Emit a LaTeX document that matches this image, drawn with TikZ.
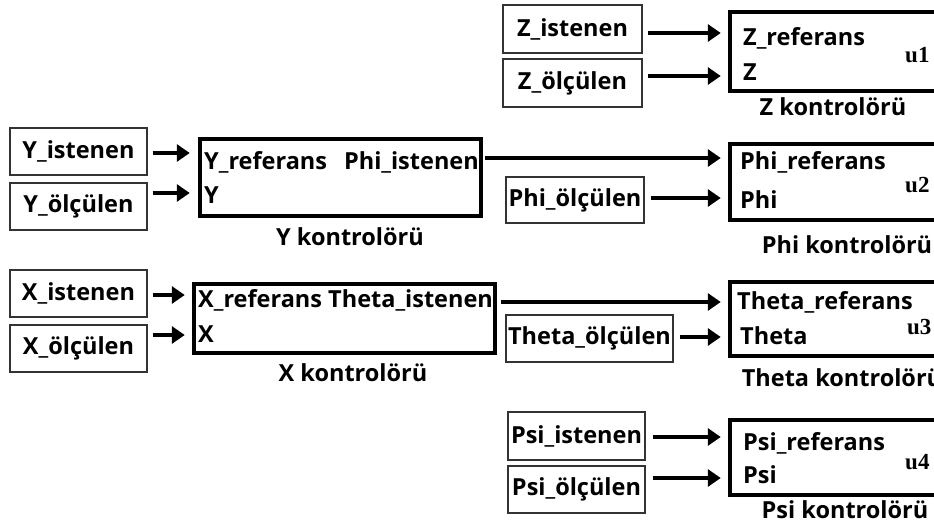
\documentclass[tikz,border=0pt]{standalone}
\usepackage{fontspec}
\setmainfont{Open Sans}
\newfontfamily\ufont{Liberation Serif}
\usetikzlibrary{arrows.meta}
\begin{document}
\begin{tikzpicture}[x=1pt,y=-1pt,
 lbl/.style={font=\fontsize{23.5}{27}\selectfont\bfseries, inner sep=0pt},
 inbox/.style={draw=black!80, line width=1.4pt, inner sep=0pt, minimum width=137pt, minimum height=47pt, lbl},
 ctrl/.style={draw, line width=4.5pt, inner sep=0pt, minimum width=230pt},
 ulbl/.style={font=\ufont\fontsize{23}{26}\selectfont\bfseries, inner sep=0pt},
 arr/.style={line width=3.5pt, -{Triangle[length=13pt,width=17pt]}},
]
\useasboundingbox (0,0) rectangle (934,530);
\clip (0,0) rectangle (934,530);
\fill[white] (0,0) rectangle (934,530);

% Z
\node[inbox, minimum width=139pt, minimum height=48pt] (zi) at (572.5,29) {Z\_istenen};
\node[inbox, minimum width=139pt, minimum height=48pt] (zo) at (572.5,83) {Z\_ölçülen};
\node[ctrl, minimum height=79pt] (zc) at (845,51.5) {};
\node[lbl, anchor=west] (zr) at (743,38) {Z\_referans};
\node[lbl, anchor=west] (zv) at (743,72) {Z};
\node[ulbl, anchor=west] (zu) at (905,55) {u1};
\node[lbl] (zk) at (833,107) {Z kontrolörü};
\coordinate (za) at ([yshift=-4pt]zi.east);
\coordinate (zb) at ([yshift=7pt]zo.east);
\draw[arr, shorten <=5pt, shorten >=7pt] (za) -- (za -| zc.west);
\draw[arr, shorten <=5pt, shorten >=7pt] (zb) -- (zb -| zc.west);

% Y
\node[inbox] (yi) at (78.5,151.5) {Y\_istenen};
\node[inbox] (yo) at (78.5,206.5) {Y\_ölçülen};
\node[ctrl, minimum width=281pt, minimum height=77pt] (yc) at (340.5,177.5) {};
\node[lbl, anchor=west] (yr) at (204,162) {Y\_referans};
\node[lbl, anchor=east] (ypi) at (479,162) {Phi\_istenen};
\node[lbl, anchor=west] (yv) at (204,195) {Y};
\node[lbl] (yk) at (350,237) {Y kontrolörü};
\coordinate (ya) at ([yshift=-1.5pt]yi.east);
\coordinate (yb) at ([yshift=13.5pt]yo.east);
\draw[arr, shorten <=5pt, shorten >=8pt] (ya) -- (ya -| yc.west);
\draw[arr, shorten <=5pt, shorten >=8pt] (yb) -- (yb -| yc.west);

% Phi
\node[ctrl, minimum height=76pt] (pc) at (845,182) {};
\node[lbl, anchor=west] (pr) at (740,162) {Phi\_referans};
\node[lbl, anchor=west] (pv) at (740,200) {Phi};
\node[ulbl, anchor=west] (pu) at (905,185) {u2};
\node[lbl] (pk) at (847,245) {Phi kontrolörü};
\node[inbox, minimum width=138pt, minimum height=46pt] (po) at (575,200) {Phi\_ölçülen};
\coordinate (pa) at ([yshift=19.5pt]yc.east);
\coordinate (pb) at ([yshift=2pt]po.east);
\draw[arr, shorten <=2pt, shorten >=7pt] (pa) -- (pa -| pc.west);
\draw[arr, shorten <=6pt, shorten >=7pt] (pb) -- (pb -| pc.west);

% X
\node[inbox] (xi) at (78.5,293.5) {X\_istenen};
\node[inbox] (xo) at (78.5,348.5) {X\_ölçülen};
\node[ctrl, minimum width=301pt, minimum height=69pt] (xc) at (344.5,318.5) {};
\node[lbl, anchor=west] (xr) at (198,300) {X\_referans Theta\_istenen};
\node[lbl, anchor=west] (xv) at (198,334) {X};
\node[lbl] (xk) at (353,373) {X kontrolörü};
\coordinate (xa) at ([yshift=-1.5pt]xi.east);
\coordinate (xb) at ([yshift=13.5pt]xo.east);
\draw[arr, shorten <=5pt, shorten >=7pt] (xa) -- (xa -| xc.west);
\draw[arr, shorten <=5pt, shorten >=7pt] (xb) -- (xb -| xc.west);

% Theta
\node[ctrl, minimum height=74pt] (tc) at (845,319) {};
\node[lbl, anchor=west] (tr) at (737,302) {Theta\_referans};
\node[lbl, anchor=west] (tv) at (740,336) {Theta};
\node[ulbl, anchor=west] (tu) at (907,327) {u3};
\node[lbl] (tk) at (842,378) {Theta kontrolörü};
\node[inbox, minimum width=167pt] (tho) at (589.5,338.5) {Theta\_ölçülen};
\coordinate (ta) at ([yshift=16.5pt]xc.east);
\coordinate (tb) at ([yshift=1.5pt]tho.east);
\draw[arr, shorten <=4pt, shorten >=7pt] (ta) -- (ta -| tc.west);
\draw[arr, shorten <=6pt, shorten >=7pt] (tb) -- (tb -| tc.west);

% Psi
\node[inbox, minimum height=48pt] (si) at (576.5,436) {Psi\_istenen};
\node[inbox] (so) at (576.5,489.5) {Psi\_ölçülen};
\node[ctrl, minimum height=75pt] (sc) at (845,457.5) {};
\node[lbl, anchor=west] (sr) at (743,443) {Psi\_referans};
\node[lbl, anchor=west] (sv) at (743,475) {Psi};
\node[ulbl, anchor=west] (su) at (905,462) {u4};
\node[lbl] (sk) at (845,510) {Psi kontrolörü};
\coordinate (sa) at ([yshift=-1pt]si.east);
\coordinate (sb) at ([yshift=11.5pt]so.east);
\draw[arr, shorten <=7pt, shorten >=7pt] (sa) -- (sa -| sc.west);
\draw[arr, shorten <=7pt, shorten >=7pt] (sb) -- (sb -| sc.west);
\end{tikzpicture}
\end{document}
